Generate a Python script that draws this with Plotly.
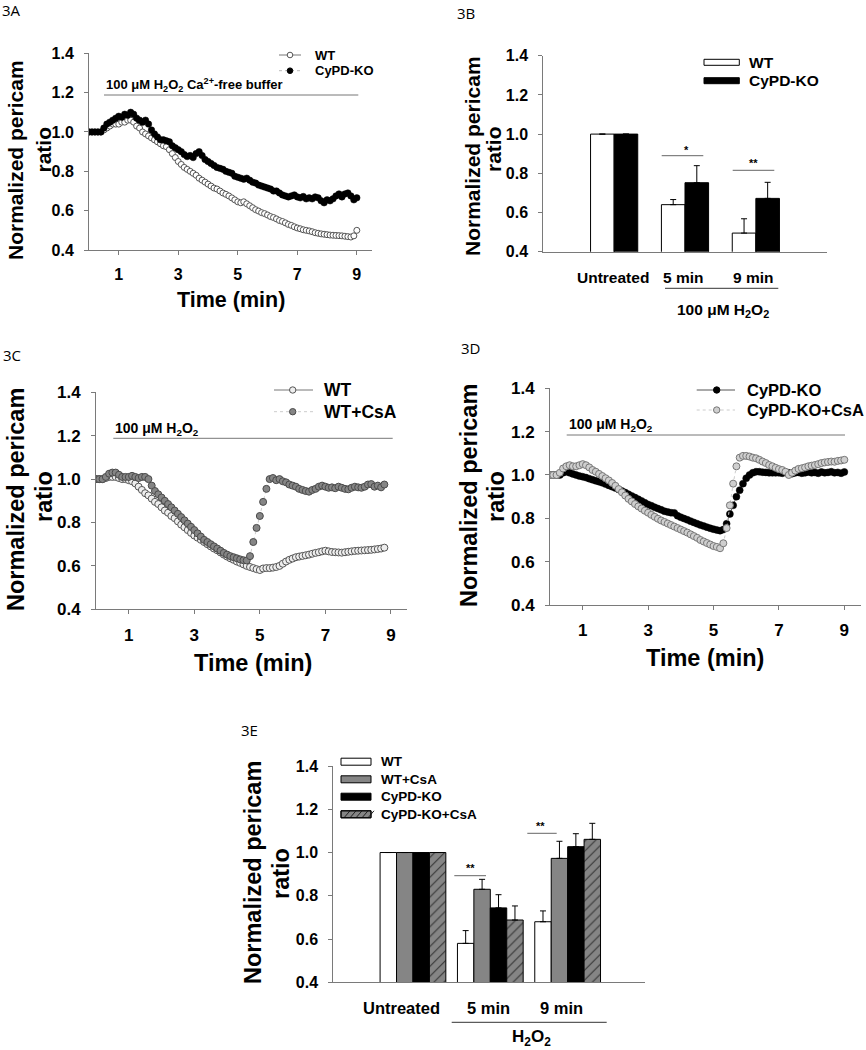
import plotly.graph_objects as go

W, H = 866, 1050
def px(x): return x / W
def py(y): return 1 - y / H

# ---------------- data ----------------
TIME_STEP = 0.1  # min between samples

# 3A: 100 uM H2O2 in Ca2+-free buffer
A_WT = [1.0,1.0,1.0,1.0,1.0, 1.01,1.02,1.03,1.04,1.04, 1.04,1.05,1.05,1.06,1.06,
        1.05,1.03,1.02,1.0,0.99, 0.98,0.97,0.96,0.95,0.94, 0.93,0.925,0.91,0.89,0.87,
        0.85,0.835,0.82,0.81,0.80, 0.79,0.78,0.765,0.755,0.745, 0.735,0.725,0.715,0.71,0.70,
        0.69,0.683,0.675,0.665,0.655, 0.645,0.64,0.645,0.635,0.625, 0.615,0.605,0.598,0.59,0.585,
        0.578,0.57,0.565,0.558,0.55, 0.545,0.538,0.53,0.525,0.518, 0.512,0.508,0.503,0.50,0.497,
        0.493,0.488,0.485,0.482,0.48, 0.478,0.476,0.475,0.474,0.473, 0.472,0.47,0.468,0.466,0.472,
        0.50]
A_KO = [1.0,1.0,1.0,1.0,1.0, 1.02,1.04,1.05,1.06,1.07, 1.08,1.075,1.09,1.085,1.10,
        1.09,1.07,1.06,1.05,1.06, 1.04,1.01,0.99,0.975,0.96, 0.96,0.955,0.95,0.93,0.92,
        0.91,0.90,0.885,0.875,0.88, 0.87,0.89,0.90,0.88,0.86, 0.85,0.84,0.83,0.82,0.815,
        0.81,0.80,0.795,0.79,0.775, 0.77,0.765,0.76,0.765,0.755, 0.745,0.74,0.73,0.725,0.72,
        0.715,0.71,0.70,0.70,0.69, 0.68,0.675,0.67,0.675,0.68, 0.67,0.665,0.672,0.66,0.665,
        0.66,0.67,0.665,0.65,0.64, 0.655,0.65,0.66,0.675,0.685, 0.67,0.685,0.69,0.675,0.655,
        0.665]

# 3B
B_CATS = ["Untreated", "5 min", "9 min"]
B_WT = [1.0, 0.64, 0.495]
B_WT_ERR = [0, 0.026, 0.073]
B_KO = [1.0, 0.752, 0.672]
B_KO_ERR = [0, 0.087, 0.082]

# 3C
C_WT = [1.0,1.0,1.0,1.005,1.01, 1.01,1.01,1.005,1.0,1.0, 0.995,0.99,0.98,0.965,0.95,
        0.935,0.925,0.91,0.895,0.885, 0.87,0.855,0.845,0.83,0.82, 0.805,0.79,0.778,0.765,0.752,
        0.74,0.73,0.72,0.71,0.70, 0.69,0.68,0.672,0.662,0.652, 0.643,0.635,0.628,0.62,0.614,
        0.607,0.60,0.595,0.59,0.585, 0.581,0.588,0.59,0.59,0.592, 0.595,0.60,0.61,0.62,0.628,
        0.634,0.64,0.643,0.646,0.649, 0.652,0.656,0.66,0.663,0.667, 0.67,0.667,0.664,0.663,0.662,
        0.661,0.663,0.665,0.667,0.669, 0.67,0.671,0.672,0.673,0.674, 0.676,0.678,0.68,0.684]
C_CSA = [1.0,1.0,1.0,1.01,1.025, 1.03,1.03,1.02,1.01,1.01, 1.01,1.015,1.01,1.005,1.01,
         1.01,1.0,0.97,0.945,0.93, 0.915,0.90,0.885,0.87,0.855, 0.84,0.825,0.81,0.795,0.78,
         0.765,0.75,0.735,0.72,0.71, 0.70,0.69,0.68,0.67,0.66, 0.652,0.645,0.64,0.635,0.63,
         0.626,0.625,0.645,0.71,0.775, 0.83,0.895,0.955,1.0,1.005, 0.995,1.0,0.99,0.985,0.975,
         0.97,0.965,0.955,0.95,0.945, 0.942,0.95,0.955,0.965,0.97, 0.965,0.96,0.962,0.958,0.965,
         0.96,0.955,0.953,0.96,0.965, 0.962,0.96,0.965,0.975,0.977, 0.965,0.97,0.962,0.975]

# 3D
D_KO = [1.0,1.0,1.0,1.0,1.01, 1.015,1.01,1.005,1.0,0.995, 0.992,0.988,0.983,0.978,0.973,
        0.969,0.964,0.958,0.952,0.946, 0.94,0.933,0.926,0.919,0.911, 0.903,0.896,0.888,0.88,0.872,
        0.864,0.858,0.851,0.845,0.839, 0.833,0.829,0.826,0.825,0.812, 0.805,0.799,0.793,0.787,0.781,
        0.775,0.769,0.764,0.759,0.754, 0.75,0.746,0.743,0.748,0.775, 0.82,0.86,0.90,0.93,0.96,
        0.985,1.0,1.01,1.015,1.015, 1.013,1.012,1.01,1.01,1.01, 1.01,1.008,1.012,1.01,1.006,
        1.01,1.012,1.008,1.01,1.014, 1.01,1.012,1.008,1.014,1.01, 1.012,1.015,1.01,1.012,1.008,
        1.014]
D_CSA = [1.0,1.0,1.0,1.01,1.03, 1.04,1.045,1.04,1.04,1.045, 1.05,1.045,1.035,1.023,1.015,
         1.005,0.995,0.985,0.975,0.963, 0.95,0.935,0.92,0.905,0.89, 0.878,0.866,0.855,0.845,0.835,
         0.826,0.816,0.807,0.798,0.79, 0.783,0.776,0.769,0.762,0.755, 0.748,0.741,0.734,0.726,0.718,
         0.71,0.70,0.693,0.686,0.679, 0.672,0.668,0.662,0.685,0.755, 0.86,0.96,1.04,1.08,1.088,
         1.088,1.085,1.08,1.077,1.07, 1.062,1.055,1.046,1.04,1.033, 1.027,1.023,1.015,1.0,1.01,
         1.02,1.028,1.031,1.035,1.04, 1.043,1.046,1.05,1.055,1.058, 1.06,1.062,1.061,1.065,1.067,
         1.07]

# 3E
E_CATS = ["Untreated", "5 min", "9 min"]
E_WT = [1.0, 0.58, 0.68];      E_WT_ERR = [0, 0.059, 0.05]
E_WTCSA = [1.0, 0.83, 0.973];  E_WTCSA_ERR = [0, 0.046, 0.079]
E_KO = [1.0, 0.744, 1.027];    E_KO_ERR = [0, 0.061, 0.06]
E_KOCSA = [1.0, 0.688, 1.061]; E_KOCSA_ERR = [0, 0.065, 0.074]

Y_TICKS = [0.4, 0.6, 0.8, 1.0, 1.2, 1.4]
Y_TICKTEXT = ["0.4", "0.6", "0.8", "1.0", "1.2", "1.4"]
X_TICKS = [1, 3, 5, 7, 9]


def times(vals):
    return [round(i * TIME_STEP, 2) for i in range(len(vals))]


BOLD = "Liberation Sans, Arial, sans-serif"
REG = "Open Sans, sans-serif"
AXC = "#7a7a7a"

fig = go.Figure()

# ---------------- traces ----------------
# 3A
fig.add_trace(go.Scatter(x=times(A_WT), y=A_WT, mode="lines+markers", xaxis="x", yaxis="y",
                         line=dict(color="#888", width=1),
                         marker=dict(symbol="circle", size=6, color="white", line=dict(color="#555", width=1))))
fig.add_trace(go.Scatter(x=times(A_KO), y=A_KO, mode="lines+markers", xaxis="x", yaxis="y",
                         line=dict(color="#bbb", width=1, dash="dot"),
                         marker=dict(symbol="circle", size=6.5, color="black", line=dict(color="black", width=0.5))))


def bar_group(cats_n, series, axis_x, axis_y, width):
    n = len(series)
    for k, (vals, errs, mk) in enumerate(series):
        fig.add_trace(go.Bar(x=list(range(cats_n)), y=vals, xaxis=axis_x, yaxis=axis_y, marker=mk,
                             width=width, offset=-n * width / 2 + k * width,
                             error_y=dict(type="data", array=errs, arrayminus=[0] * cats_n, symmetric=False,
                                          color="black", thickness=1, width=3)))


# 3B
bar_group(len(B_CATS), [
    (B_WT, B_WT_ERR, dict(color="white", line=dict(color="black", width=1))),
    (B_KO, B_KO_ERR, dict(color="black", line=dict(color="black", width=1))),
], "x2", "y2", 0.333)

# 3C
fig.add_trace(go.Scatter(x=times(C_WT), y=C_WT, mode="lines+markers", xaxis="x3", yaxis="y3",
                         line=dict(color="#888", width=1),
                         marker=dict(symbol="circle", size=7, color="#eeeeee", line=dict(color="#555", width=1))))
fig.add_trace(go.Scatter(x=times(C_CSA), y=C_CSA, mode="lines+markers", xaxis="x3", yaxis="y3",
                         line=dict(color="#ccc", width=1, dash="dot"),
                         marker=dict(symbol="circle", size=7, color="#858585", line=dict(color="#4a4a4a", width=1))))
# 3D
fig.add_trace(go.Scatter(x=times(D_KO), y=D_KO, mode="lines+markers", xaxis="x4", yaxis="y4",
                         line=dict(color="#555", width=1),
                         marker=dict(symbol="circle", size=7, color="black", line=dict(color="black", width=0.5))))
fig.add_trace(go.Scatter(x=times(D_CSA), y=D_CSA, mode="lines+markers", xaxis="x4", yaxis="y4",
                         line=dict(color="#ccc", width=1, dash="dot"),
                         marker=dict(symbol="circle", size=7, color="#cfcfcf", line=dict(color="#777", width=1))))
# 3E
bar_group(len(E_CATS), [
    (E_WT, E_WT_ERR, dict(color="white", line=dict(color="black", width=1))),
    (E_WTCSA, E_WTCSA_ERR, dict(color="#858585", line=dict(color="black", width=1))),
    (E_KO, E_KO_ERR, dict(color="black", line=dict(color="black", width=1))),
    (E_KOCSA, E_KOCSA_ERR, dict(color="#858585", line=dict(color="black", width=1),
                                pattern=dict(shape="/", fgcolor="#333", bgcolor="#858585", size=7, solidity=0.15,
                                             fillmode="replace"))),
], "x5", "y5", 0.2125)


# ---------------- axes ----------------
def xax(x0, x1, anchor, rng, ticks=True, fs=16):
    d = dict(domain=[px(x0), px(x1)], anchor=anchor, range=rng, showgrid=False, zeroline=False,
             showline=True, linecolor=AXC, linewidth=1, fixedrange=True, automargin=False)
    if ticks:
        d.update(tickmode="array", tickvals=X_TICKS, ticktext=[str(v) for v in X_TICKS], ticks="outside",
                 ticklen=4, tickcolor=AXC, tickfont=dict(family=BOLD, size=fs, color="black", weight="bold"),
                 ticklabelstandoff=6)
    else:
        d.update(showticklabels=False, ticks="")
    return d


def yax(y_top, y_bottom, anchor, fs=16):
    return dict(domain=[py(y_bottom), py(y_top)], anchor=anchor, range=[0.4, 1.4], showgrid=False, zeroline=False,
                showline=True, linecolor=AXC, linewidth=1, tickmode="array", tickvals=Y_TICKS, ticktext=Y_TICKTEXT,
                ticks="outside", ticklen=4, tickcolor=AXC, ticklabelstandoff=7, automargin=False,
                tickfont=dict(family=BOLD, size=fs, color="black", weight="bold"), fixedrange=True)


fig.update_layout(
    xaxis=xax(89, 371.7, "y", [0, 9.5]),
    yaxis=yax(53.3, 250, "x"),
    xaxis2=xax(543.3, 826.7, "y2", [-1, 3], ticks=False),
    yaxis2=yax(55.7, 251.7, "x2"),
    xaxis3=xax(96, 407.3, "y3", [0, 9.5], fs=17),
    yaxis3=yax(392.3, 609.3, "x3", fs=17),
    xaxis4=xax(550, 860.7, "y4", [0, 9.5], fs=17),
    yaxis4=yax(388.3, 605, "x4", fs=17),
    xaxis5=xax(333.3, 645, "y5", [-1.03, 3.0], ticks=False),
    yaxis5=yax(766, 982.3, "x5", fs=16),
)

# ---------------- annotations & shapes ----------------
ann = []
shp = []


def text(x, y, s, size, bold=True, family=None, xanchor="center", angle=0, color="black"):
    ann.append(dict(x=px(x), y=py(y), xref="paper", yref="paper", text=s, showarrow=False,
                    xanchor=xanchor, yanchor="middle", textangle=angle,
                    font=dict(family=family or (BOLD if bold else REG), size=size, color=color,
                              weight="bold" if bold else "normal")))


def line(x0, y0, x1, y1, color="#666", width=1, dash="solid"):
    shp.append(dict(type="line", xref="paper", yref="paper", x0=px(x0), y0=py(y0), x1=px(x1), y1=py(y1),
                    line=dict(color=color, width=width, dash=dash)))


def rect(x0, y0, x1, y1, fill, edge="black"):
    shp.append(dict(type="rect", xref="paper", yref="paper", x0=px(x0), y0=py(y0), x1=px(x1), y1=py(y1),
                    fillcolor=fill, line=dict(color=edge, width=1)))


def circ(cx, cy, r, fill, edge):
    shp.append(dict(type="circle", xref="paper", yref="paper", x0=px(cx - r), y0=py(cy + r), x1=px(cx + r),
                    y1=py(cy - r), fillcolor=fill, line=dict(color=edge, width=1)))


# panel labels
text(11, 10, "3A", 15, bold=False, family=REG)
text(466, 13, "3B", 15, bold=False, family=REG)
text(12, 355, "3C", 15, bold=False, family=REG)
text(470, 348, "3D", 15, bold=False, family=REG)
text(250, 730, "3E", 15, bold=False, family=REG)

# y titles
for (x1, y1, x2, y2, fs) in [(15, 160, 43.5, 150, 21), (472, 156, 494, 149, 21), (16, 500, 44, 497, 23.5),
                             (469, 496, 496, 497, 23.5), (253, 873, 281, 874, 23.5)]:
    text(x1, y1, "Normalized pericam", fs, angle=-90)
    text(x2, y2, "ratio", fs, angle=-90)

# x titles
text(231, 300, "Time (min)", 21.5)
text(253, 663, "Time (min)", 23.5)
text(705, 658, "Time (min)", 23.5)

# 3A treatment bar + legend
line(104, 95, 358.3, 95, color="#777")
text(104, 85, "100 μM H<sub>2</sub>O<sub>2</sub> Ca<sup>2+</sup>-free buffer", 13, xanchor="left")
line(279, 55, 301, 55, color="#777")
circ(290, 55, 2.8, "white", "#555")
text(313, 55, "WT", 13, xanchor="left")
line(279, 70.7, 301, 70.7, color="#bbb", dash="dot")
circ(290, 70.7, 2.8, "black", "black")
text(313, 70.7, "CyPD-KO", 13, xanchor="left")

# 3B annotations
rect(704, 59.3, 739.3, 65.3, "white")
text(746.7, 62.3, "WT", 15.5, xanchor="left")
rect(704, 77.7, 739.3, 83.7, "black")
text(746.7, 80.7, "CyPD-KO", 15.5, xanchor="left")
line(661.7, 155.7, 703.3, 155.7, color="#666")
text(686.7, 149.5, "*", 11)
line(732.7, 170.3, 774.3, 170.3, color="#666")
text(753.3, 163.5, "**", 11)
text(612.5, 277, "Untreated", 15.5)
text(683, 277, "5 min", 15.5)
text(752.5, 277, "9 min", 15.5)
line(665, 288.3, 778.3, 288.3, color="#333")
text(722.5, 311, "100 μM H<sub>2</sub>O<sub>2</sub>", 15.5)

# 3C
line(113.3, 438.3, 392.7, 438.3, color="#777")
text(113.3, 429, "100 μM H<sub>2</sub>O<sub>2</sub>", 14, xanchor="left")
line(274, 390, 313, 390, color="#777")
circ(292.7, 390, 3.2, "#eeeeee", "#555")
text(321.7, 390, "WT", 17.5, xanchor="left")
line(274, 411.7, 313, 411.7, color="#ccc", dash="dot")
circ(292.7, 411.7, 3.2, "#858585", "#4a4a4a")
text(321.7, 411.7, "WT+CsA", 17.5, xanchor="left")

# 3D
line(566.7, 435, 845, 435, color="#777")
text(566.7, 425.5, "100 μM H<sub>2</sub>O<sub>2</sub>", 14, xanchor="left")
line(696.7, 390, 735, 390, color="#555")
circ(716.7, 390, 3.2, "black", "black")
text(745, 390, "CyPD-KO", 16.5, xanchor="left")
line(696.7, 410, 735, 410, color="#ccc", dash="dot")
circ(716.7, 410, 3.2, "#cfcfcf", "#777")
text(745, 410, "CyPD-KO+CsA", 16.5, xanchor="left")

# 3E legend
e_leg = [("WT", "white"), ("WT+CsA", "#858585"), ("CyPD-KO", "black"), ("CyPD-KO+CsA", "#858585")]
e_rows = [761.7, 779.3, 796.7, 814.3]
for (lab, col), yy in zip(e_leg, e_rows):
    rect(341, yy - 3.5, 371, yy + 3.5, col)
    text(379, yy, lab, 13.5, xanchor="left")
for k in range(5):
    x0 = 344 + k * 6
    line(x0, 814.3 + 3.5, x0 + 6, 814.3 - 3.5, color="#222")
rect(341, 814.3 - 3.5, 371, 814.3 + 3.5, "rgba(0,0,0,0)")

line(454.3, 875.7, 486, 875.7, color="#666")
text(470, 868, "**", 11)
line(527.3, 833.3, 556.7, 833.3, color="#666")
text(540, 825.5, "**", 11)
text(401, 1008.3, "Untreated", 16.5)
text(488, 1008.3, "5 min", 16.5)
text(561, 1008.3, "9 min", 16.5)
line(451.7, 1022.3, 606.7, 1022.3, color="#333")
text(531, 1038, "H<sub>2</sub>O<sub>2</sub>", 17)

fig.update_layout(
    template="none",
    width=W, height=H, margin=dict(l=0, r=0, t=0, b=0, pad=0, autoexpand=False),
    paper_bgcolor="white", plot_bgcolor="white", showlegend=False,
    barmode="overlay", hovermode=False,
    annotations=ann, shapes=shp,
)

fig.write_html("out.html", config={"displayModeBar": False, "staticPlot": True},
               post_script="document.body.style.margin='0px';")
